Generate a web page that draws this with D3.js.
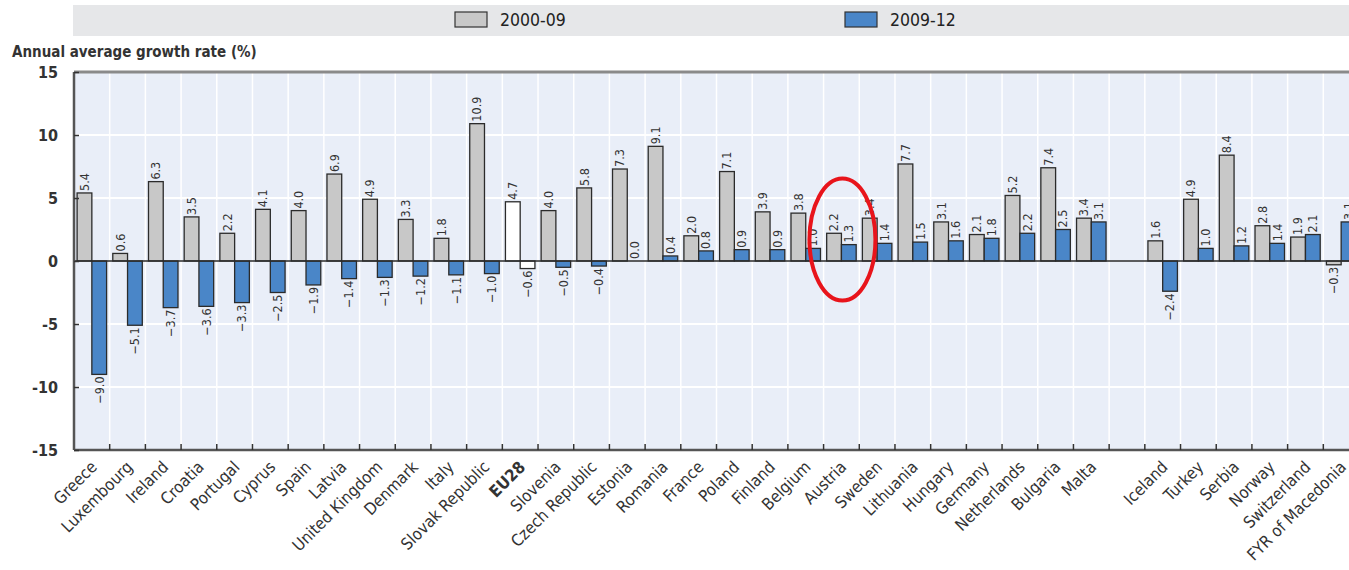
<!DOCTYPE html>
<html>
<head>
<meta charset="utf-8">
<script src="https://cdn.jsdelivr.net/npm/d3@7"></script>
<style>
  body { margin: 0; background: #fff; }
  text { font-family: "Liberation Sans Narrow", "DejaVu Sans Condensed", "Roboto", sans-serif; }
</style>
</head>
<body>
<div id="chart-area"></div>
<script>
// "" is the empty slot between Malta and Iceland
var countries = ["Greece", "Luxembourg", "Ireland", "Croatia", "Portugal", "Cyprus", "Spain", "Latvia",
                 "United Kingdom", "Denmark", "Italy", "Slovak Republic", "EU28", "Slovenia", "Czech Republic",
                 "Estonia", "Romania", "France", "Poland", "Finland", "Belgium", "Austria", "Sweden", "Lithuania",
                 "Hungary", "Germany", "Netherlands", "Bulgaria", "Malta", "",
                 "Iceland", "Turkey", "Serbia", "Norway", "Switzerland", "FYR of Macedonia"];
var growth0009 = [5.4, 0.6, 6.3, 3.5, 2.2, 4.1, 4.0, 6.9, 4.9, 3.3, 1.8, 10.9, 4.7, 4.0, 5.8,
                  7.3, 9.1, 2.0, 7.1, 3.9, 3.8, 2.2, 3.4, 7.7, 3.1, 2.1, 5.2, 7.4, 3.4, null,
                  1.6, 4.9, 8.4, 2.8, 1.9, -0.3];
var growth0912 = [-9.0, -5.1, -3.7, -3.6, -3.3, -2.5, -1.9, -1.4, -1.3, -1.2, -1.1, -1.0, -0.6, -0.5, -0.4,
                  0.0, 0.4, 0.8, 0.9, 0.9, 1.0, 1.3, 1.4, 1.5, 1.6, 1.8, 2.2, 2.5, 3.1, null,
                  -2.4, 1.0, 1.2, 1.4, 2.1, 3.1];
var seriesNames = ["2000-09", "2009-12"];
var yTicks = [-15, -10, -5, 0, 5, 10, 15];
var highlight = "EU28";
var circled = "Austria";

var margin = { left: 74, right: -10, top: 72, bottom: 120 },
    W = 1349, H = 570,
    width = W - margin.left - margin.right,
    height = H - margin.top - margin.bottom;

var svg = d3.select("#chart-area").append("svg")
    .attr("width", W)
    .attr("height", H);

var colors = { "2000-09": "#c8c8c8", "2009-12": "#4a86c8" };
var ink = "#2b2b2b";

// legend band
svg.append("rect")
    .attr("x", 73).attr("y", 5)
    .attr("width", W - 73).attr("height", 31)
    .attr("fill", "#e6e7e9");

var legendX = [455, 845];
seriesNames.forEach(function(s, i) {
    svg.append("rect")
        .attr("x", legendX[i]).attr("y", 12)
        .attr("width", 32).attr("height", 15)
        .attr("fill", colors[s])
        .attr("stroke", "#333").attr("stroke-width", 1.2);
    svg.append("text")
        .attr("x", legendX[i] + 45).attr("y", 26)
        .attr("font-size", 17.5)
        .attr("fill", "#222")
        .text(s);
});

svg.append("text")
    .attr("x", 12).attr("y", 57)
    .attr("font-size", 15)
    .attr("font-weight", "bold")
    .attr("fill", "#333")
    .text("Annual average growth rate (%)");

var g = svg.append("g")
    .attr("transform", "translate(" + margin.left + "," + margin.top + ")");

var x = d3.scaleBand().domain(d3.range(countries.length)).range([0, width]).padding(0);
var x1 = d3.scaleBand().domain(seriesNames).range([0, x.bandwidth()]).paddingInner(0).paddingOuter(0.21);
var y = d3.scaleLinear().domain([-15, 15]).range([height, 0]);

g.append("rect")
    .attr("width", width).attr("height", height)
    .attr("fill", "#e9eef8");

// white gridlines
g.selectAll(".hgrid")
    .data(yTicks.filter(function(t) { return t !== 0 && Math.abs(t) !== 15; }))
    .enter().append("line")
    .attr("x1", 0).attr("x2", width)
    .attr("y1", function(d) { return y(d); })
    .attr("y2", function(d) { return y(d); })
    .attr("stroke", "#fff").attr("stroke-width", 2);

g.selectAll(".vgrid")
    .data(d3.range(1, countries.length))
    .enter().append("line")
    .attr("x1", function(d) { return x(d); })
    .attr("x2", function(d) { return x(d); })
    .attr("y1", 0).attr("y2", height)
    .attr("stroke", "#fff").attr("stroke-width", 1.5);

// bars
var rows = countries.map(function(c, i) {
    return { i: i, name: c, vals: [
        { s: seriesNames[0], v: growth0009[i] },
        { s: seriesNames[1], v: growth0912[i] }
    ] };
}).filter(function(d) { return d.name !== ""; });

var groups = g.selectAll(".grp")
    .data(rows)
    .enter().append("g")
    .attr("transform", function(d) { return "translate(" + x(d.i) + ",0)"; });

groups.selectAll("rect")
    .data(function(d) { return d.vals.map(function(v) { v.name = d.name; return v; }); })
    .enter().append("rect")
    .attr("x", function(d) { return x1(d.s); })
    .attr("width", x1.bandwidth())
    .attr("y", function(d) { return y(Math.max(0, d.v)); })
    .attr("height", function(d) { return Math.abs(y(d.v) - y(0)); })
    .attr("fill", function(d) { return d.name === highlight ? "#ffffff" : colors[d.s]; })
    .attr("stroke", ink).attr("stroke-width", 1.3);

groups.selectAll(".vlab")
    .data(function(d) { return d.vals; })
    .enter().append("text")
    .attr("transform", function(d) {
        var cx = x1(d.s) + x1.bandwidth() / 2;
        var cy = d.v >= 0 ? y(d.v) - 2 : y(d.v) + 2;
        return "translate(" + cx + "," + cy + ") rotate(-90)";
    })
    .attr("dy", "0.35em")
    .attr("text-anchor", function(d) { return d.v >= 0 ? "start" : "end"; })
    .attr("font-size", 12.5)
    .attr("fill", "#333")
    .text(function(d) { return d3.format(".1f")(d.v); });

// zero line
g.append("line")
    .attr("x1", 0).attr("x2", width)
    .attr("y1", y(0)).attr("y2", y(0))
    .attr("stroke", ink).attr("stroke-width", 1.5);

// frame
g.append("line")
    .attr("x1", 0).attr("x2", width).attr("y1", 0).attr("y2", 0)
    .attr("stroke", "#8a8a8a").attr("stroke-width", 3);
g.append("line")
    .attr("x1", 0).attr("x2", width).attr("y1", height).attr("y2", height)
    .attr("stroke", "#555").attr("stroke-width", 2.5);
g.append("line")
    .attr("x1", 0).attr("x2", 0).attr("y1", 0).attr("y2", height)
    .attr("stroke", "#555").attr("stroke-width", 2.5);

// bottom ticks at slot boundaries
g.selectAll(".xt")
    .data(d3.range(1, countries.length))
    .enter().append("line")
    .attr("x1", function(d) { return x(d); })
    .attr("x2", function(d) { return x(d); })
    .attr("y1", height).attr("y2", height - 6)
    .attr("stroke", "#333").attr("stroke-width", 1.5);

// y axis
var yAxis = g.append("g")
    .call(d3.axisRight(y).tickValues(yTicks).tickSize(5).tickFormat(function(d) { return d; }));
yAxis.select(".domain").remove();
yAxis.selectAll(".tick line").attr("stroke", "#333").attr("stroke-width", 1.5);
yAxis.selectAll(".tick text")
    .attr("x", -16)
    .attr("text-anchor", "end")
    .attr("font-size", 16)
    .attr("font-weight", "bold")
    .attr("fill", "#333")
    .style("font-family", "'Liberation Sans Narrow', 'DejaVu Sans Condensed', sans-serif");

// x labels
g.selectAll(".xlab")
    .data(rows)
    .enter().append("text")
    .attr("transform", function(d) {
        return "translate(" + (x(d.i) + x.bandwidth() / 2 + 2) + "," + (height + 14) + ") rotate(-45)";
    })
    .attr("dy", "0.35em")
    .attr("text-anchor", "end")
    .attr("font-size", 16.5)
    .attr("font-weight", function(d) { return d.name === highlight ? "bold" : "normal"; })
    .attr("fill", "#333")
    .text(function(d) { return d.name; });

// red annotation ellipse
var ci = countries.indexOf(circled);
g.append("ellipse")
    .attr("cx", x(ci) + x.bandwidth() / 2 + 1)
    .attr("cy", y(1.7))
    .attr("rx", 33).attr("ry", 61)
    .attr("fill", "none")
    .attr("stroke", "#e8141b").attr("stroke-width", 4);
</script>
</body>
</html>
